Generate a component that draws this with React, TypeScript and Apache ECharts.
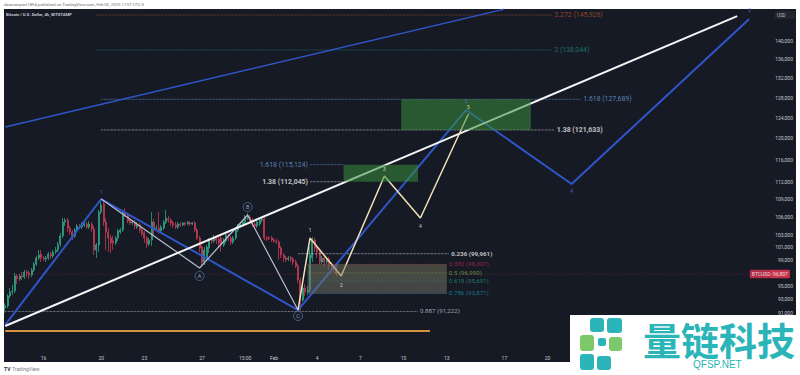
import React, { useEffect, useRef } from "react";
import * as echarts from "echarts";

// 4h slots of the time axis
const slotCount = 330;
const slots: string[] = [];
for (let i = 0; i < slotCount; i++) {
  const d = new Date(Date.UTC(2025, 0, 13, 8 + i * 4));
  const p = (n: number) => String(n).padStart(2, "0");
  slots.push(`${p(d.getUTCMonth() + 1)}-${p(d.getUTCDate())} ${p(d.getUTCHours())}:00`);
}

const xTicks: [string, string][] = [
  ["01-16 00:00", "16"], ["01-20 00:00", "20"], ["01-23 00:00", "23"], ["01-27 00:00", "27"],
  ["01-30 00:00", "15:00"], ["02-01 00:00", "Feb"], ["02-04 00:00", "4"], ["02-07 00:00", "7"],
  ["02-10 00:00", "10"], ["02-13 00:00", "13"], ["02-17 00:00", "17"], ["02-20 00:00", "20"],
];
const yTicks = [91000, 93000, 95000, 99000, 101000, 103000, 106000, 109000, 112000, 116000, 120000, 124000, 128000, 132000, 136000, 140000];

// open, close, low, high
const candles: number[][] = [
  [91720,92010,91000,92450],[92010,93480,91720,93780],[93480,94080,93190,94680],[94080,94230,93630,95130],
  [94230,96500,93930,96960],[96500,96050,95280,96810],[96050,96500,95740,96810],[96500,96350,95890,97110],
  [96350,97110,96050,97420],[97110,96960,96350,97420],[96960,96650,96050,97260],[96650,97420,96350,97730],
  [97420,98350,97110,98660],[98350,99290,98040,99610],[99290,99770,98970,100560],[99930,99290,98660,100560],
  [99290,99130,98820,99610],[99130,99290,98660,99610],[99290,99930,98970,100240],[99930,99610,99130,100240],
  [99610,100240,99290,100560],[100240,100560,99930,101030],[100560,101510,100240,101840],[101510,102830,101030,103320],
  [102830,105110,102490,105780],[105110,105450,104450,105780],[105450,104130,103480,105780],[104130,103480,103000,104450],
  [103480,102830,102160,103800],[102830,103800,102490,104130],[103800,104450,103480,104780],[104450,104290,103960,104780],
  [104290,104620,103960,105110],[104620,104780,104290,105110],[104780,104290,103960,105110],[104290,104780,103960,105280],
  [104780,103960,103480,105110],[103960,100560,99770,104450],[100560,101350,99290,101680],[101350,106800,100240,107140],
  [106800,107980,106460,108850],[108150,105110,104450,108850],[105110,103480,100560,105780],[103480,102490,100240,104130],
  [102490,101680,100080,103000],[102000,101680,100560,102830],[101680,102490,101350,102830],[102490,103640,102000,103960],
  [103480,103800,103160,104130],[103800,106800,103480,107140],[106800,106290,105950,107470],[106290,105280,104950,106630],
  [105450,104950,104620,105780],[104950,105110,104620,105450],[105110,104450,103960,105450],[104290,104780,103960,105110],
  [104620,103800,103320,104950],[103800,103160,102830,104130],[103320,102490,101680,103640],[102490,101510,100870,102830],
  [101510,102160,101190,102490],[102160,105110,101190,106800],[105110,103960,102830,105610],[103960,104130,103640,104620],
  [104130,103640,103160,106800],[103640,104290,103320,104620],[104130,105110,103800,105450],[105110,105780,104780,107140],
  [105610,105450,104950,106120],[105450,104950,104450,105780],[104950,104620,104130,105280],[104620,104290,103960,105110],
  [104290,104780,103960,105110],[104780,104620,104290,105110],[104620,104950,104450,105110],[104950,104780,104450,105110],
  [104780,105110,104620,105280],[104950,104780,104450,105280],[104780,104950,104620,105110],[104950,103800,103480,105280],
  [103800,102490,102160,104130],[102490,100870,100240,102830],[101030,98660,98040,101350],[98660,100560,98190,101030],
  [99290,101030,98970,101350],[100870,102160,100080,102490],[102160,102000,101510,102490],[102000,102490,101680,103000],
  [102490,102160,101510,102830],[102330,101680,100870,102830],[102490,101350,100240,102830],[101350,102160,101030,102490],
  [102000,103000,101680,103320],[102830,102490,102000,103320],[102490,101840,101350,102830],[101840,102490,101510,102830],
  [102490,103800,102160,104130],[103800,104450,103480,104780],[104450,104780,104130,105110],[104780,105110,104450,105450],
  [105110,105950,104780,106290],[105780,106120,105450,106630],[105950,105450,104950,106290],[105450,104780,104290,105780],
  [104780,104450,103960,105110],[104450,105110,104130,105450],[104780,105450,104450,105780],[105450,105610,105110,105950],
  [105610,102490,102160,105950],[102490,102330,102000,102830],[102490,102400,102160,102830],[102490,102160,101840,102830],
  [102160,102000,101680,102490],[102000,101840,101510,102330],[101840,100870,98970,102160],[100870,99770,99290,101190],
  [99770,99290,98660,100080],[99290,98970,98660,99610],[99130,99290,98820,99610],[99290,99130,98660,99610],
  [99130,98660,98190,99450],[98660,98040,97730,98970],[98040,95890,95430,98350],[95890,92890,91290,96200],
  [92890,94680,92600,95280],[94680,94080,93480,95280],[94080,94380,93630,94980],[94380,99770,94080,101030],
  [99290,102160,98660,102660],[102160,100870,100240,102490],[100870,100240,99290,101190],[100240,98660,98350,100560],
  [98660,99290,98350,99610],[99290,98660,98040,99610],[98660,98970,98350,99290],[99130,98350,97420,99450],
  [98350,98040,97420,98660],[98040,97730,97110,98350],[97730,96810,96500,98040],
];

const lastPrice = 96807;

// drawn wave paths: [time, price]
const blueWave: [string, number][] = [
  ["01-13 08:00", 89290], ["01-20 00:00", 109020], ["02-02 16:00", 91430],
  ["02-14 08:00", 125530], ["02-21 16:00", 111640], ["03-06 00:00", 145010],
];
const blueChannel: [string, number][] = [["01-13 08:00", 122190], ["02-17 00:00", 147300]];
const whiteTrend: [string, number][] = [["01-13 08:00", 89145], ["03-05 04:00", 145690]];
const abcWave: [string, number][] = [
  ["01-20 00:00", 109020], ["01-26 20:00", 97730], ["01-30 04:00", 106290], ["02-02 16:00", 91430],
];
const creamWave: [string, number][] = [
  ["02-02 16:00", 91430], ["02-03 12:00", 102480], ["02-05 16:00", 96500],
  ["02-08 16:00", 113070], ["02-11 04:00", 105790], ["02-14 12:00", 124740],
];
const orangeLine: [string, number][] = [["01-13 08:00", 88440], ["02-11 20:00", 88440]];

const fibLevels: { text: string; price: number; from: string; to: string; color: string; side: string; bold?: boolean; large?: boolean }[] = [
  { text: "2.272 (145,926)", price: 145926, from: "01-19 16:00", to: "02-20 08:00", color: "#b5532d", side: "right", large: true },
  { text: "2 (138,044)", price: 138044, from: "01-19 16:00", to: "02-20 08:00", color: "#1f8a78", side: "right", large: true },
  { text: "1.618 (127,689)", price: 127689, from: "01-20 00:00", to: "02-22 08:00", color: "#6d9fd6", side: "right", large: true },
  { text: "1.38 (121,633)", price: 121633, from: "01-20 00:00", to: "02-20 12:00", color: "#e8e8e8", side: "right", bold: true, large: true },
  { text: "1.618 (115,124)", price: 115124, from: "02-03 12:00", to: "02-05 20:00", color: "#6d9fd6", side: "left", large: true },
  { text: "1.38 (112,045)", price: 112045, from: "02-03 12:00", to: "02-05 20:00", color: "#e8e8e8", side: "left", bold: true, large: true },
  { text: "0.236 (99,961)", price: 99961, from: "02-02 16:00", to: "02-13 04:00", color: "#e8e8e8", side: "right", bold: true },
  { text: "0.382 (98,307)", price: 98307, from: "02-03 08:00", to: "02-13 00:00", color: "#b0285a", side: "right" },
  { text: "0.5 (96,990)", price: 96990, from: "02-03 08:00", to: "02-13 00:00", color: "#86a84a", side: "right" },
  { text: "0.618 (95,691)", price: 95691, from: "02-03 08:00", to: "02-13 00:00", color: "#23907a", side: "right" },
  { text: "0.786 (93,871)", price: 93871, from: "02-03 08:00", to: "02-13 00:00", color: "#1b8aa6", side: "right" },
  { text: "0.887 (91,222)", price: 91222, from: "01-13 08:00", to: "02-11 00:00", color: "#c3c5cf", side: "right" },
];

const greenZones: [string, string, number, number][] = [
  ["02-05 20:00", "02-11 00:00", 112045, 115124],
  ["02-09 20:00", "02-18 20:00", 121633, 127689],
];
const retraceZones: [number, number, string][] = [
  [96990, 98307, "rgba(118,118,92,0.5)"],
  [95691, 96990, "rgba(118,122,100,0.5)"],
  [93871, 95691, "rgba(115,116,104,0.5)"],
];

const creamLabels: [string, number, string][] = [
  ["02-03 12:00", 103800, "1"], ["02-05 16:00", 95130, "2"], ["02-08 16:00", 114330, "3"],
  ["02-11 04:00", 104450, "4"], ["02-14 12:00", 126130, "5"],
];
const blueLabels: [string, number, string][] = [
  ["01-20 00:00", 110230, "1"], ["02-14 08:00", 127300, "3"], ["02-21 16:00", 110420, "4"], ["03-06 00:00", 147090, "5"],
];
const circleLabels: [string, number, string][] = [
  ["01-26 20:00", 96500, "A"], ["01-30 04:00", 107640, "B"], ["02-02 16:00", 90570, "C"],
];
const priceTag: [string, string, string][] = [["03-06 20:00", "BTCUSD", "#d8324f"], ["03-08 04:00", "96,807", "#ef3a55"]];

const line = (data: [string, number][], color: string, width: number, z: number, type: string = "solid") => ({
  type: "line", data, symbol: "none", silent: true, z,
  lineStyle: { color, width, type }, connectNulls: true,
});

const FONT = "Roboto, 'Liberation Sans', sans-serif";

export default function App() {
  const ref = useRef<HTMLDivElement>(null);
  useEffect(() => {
    document.body.style.margin = "0";
    document.body.style.background = "#fff";
    const chart = echarts.init(ref.current!, undefined, { renderer: "svg" });
    const tickMap = new Map(xTicks);
    const option: any = {
      animation: false,
      backgroundColor: "#ffffff",
      grid: { left: 4, right: 4, top: 9, bottom: 13, show: true, backgroundColor: "#161a25", borderWidth: 0 },
      xAxis: {
        type: "category", data: slots, boundaryGap: true,
        axisLine: { show: false }, axisTick: { show: false }, splitLine: { show: false },
        axisLabel: {
          inside: true, margin: 2, hideOverlap: false, fontSize: 5, color: "#c4c7cf", fontFamily: FONT,
          interval: (_: number, v: string) => tickMap.has(v),
          formatter: (v: string) => tickMap.get(v) ?? "",
        },
      },
      yAxis: {
        type: "log", logBase: 10, min: 84200, max: 147330, position: "right",
        axisLine: { show: false }, axisTick: { show: false }, splitLine: { show: false }, minorTick: { show: false },
        axisLabel: {
          inside: true, margin: 3, fontSize: 5, color: "#c4c7cf", fontFamily: FONT, hideOverlap: false,
          customValues: yTicks,
          formatter: (v: number) => Math.round(v).toLocaleString("en-US"),
        },
      },
      series: [
        {
          type: "candlestick", z: 2, silent: true, barWidth: 1.6,
          data: candles,
          itemStyle: { color: "#2f9f83", color0: "#c23a52", borderColor: "#2f9f83", borderColor0: "#c23a52", borderWidth: 0.8 },
        },
        line([[slots[0], lastPrice], [slots[slotCount - 1], lastPrice]], "rgba(200,60,80,0.35)", 0.7, 2, "dotted"),
        ...fibLevels.map((l) => line([[l.from, l.price], [l.to, l.price]], l.color, 0.7, 3, "dotted")),
        line(orangeLine, "#d4953a", 2, 4),
        line(blueChannel, "#2f56c8", 1.5, 5),
        line(blueWave, "#2f56c8", 2, 5),
        line(abcWave, "#b6bed0", 1.2, 6),
        line(whiteTrend, "#f5f5f5", 2, 7),
        line(creamWave, "#f0e2b4", 1.5, 8),
        {
          type: "line", data: [], z: 9, silent: true,
          markArea: {
            silent: true, z: 9,
            data: [
              ...greenZones.map(([a, b, lo, hi]) => [
                { xAxis: a, yAxis: hi, itemStyle: { color: "rgba(56,142,60,0.55)" } },
                { xAxis: b, yAxis: lo },
              ]),
              ...retraceZones.map(([lo, hi, color]) => [
                { xAxis: "02-03 08:00", yAxis: hi, itemStyle: { color } },
                { xAxis: "02-13 00:00", yAxis: lo },
              ]),
            ],
          },
        },
        {
          type: "scatter", z: 12, silent: true, symbolSize: 0,
          data: fibLevels.map((l) => ({
            value: [l.side === "right" ? l.to : l.from, l.price],
            label: {
              show: true, position: l.side, distance: 2, formatter: l.text, color: l.color,
              fontSize: l.large ? 6.9 : 6.2, fontFamily: FONT, fontWeight: l.bold ? "bold" : "normal",
            },
          })),
        },
        {
          type: "scatter", z: 12, silent: true, symbolSize: 0,
          data: creamLabels.map(([t, p, s]) => ({
            value: [t, p],
            label: { show: true, position: "inside", formatter: s, color: "#f0e6c0", fontSize: 5.5, fontFamily: FONT },
          })),
        },
        {
          type: "scatter", z: 12, silent: true, symbolSize: 0,
          data: blueLabels.map(([t, p, s]) => ({
            value: [t, p],
            label: { show: true, position: "inside", formatter: s, color: "#4f78d8", fontSize: 5.5, fontFamily: FONT },
          })),
        },
        {
          type: "scatter", z: 12, silent: true, symbol: "circle", symbolSize: 9,
          itemStyle: { color: "rgba(22,26,37,0.9)", borderColor: "#5d86c8", borderWidth: 0.8 },
          data: circleLabels.map(([t, p, s]) => ({
            value: [t, p],
            label: { show: true, position: "inside", formatter: s, color: "#b8c4dc", fontSize: 5.5, fontFamily: FONT },
          })),
        },
        {
          type: "scatter", z: 13, silent: true, symbolSize: 0,
          data: priceTag.map(([t, s, bg]) => ({
            value: [t, lastPrice],
            label: {
              show: true, position: "inside", formatter: s, color: "#ffffff", fontSize: 5, fontFamily: FONT,
              backgroundColor: bg, padding: [2, 2, 1.5, 2], borderRadius: 1,
            },
          })),
        },
      ],
      graphic: [
        { type: "text", z: 50, x: 4, y: 2, style: { text: "dasmarquez1894 published on TradingView.com, Feb 05, 2025 17:07 UTC-5", fontSize: 4.2, fontFamily: FONT, fill: "#6b6f78" } },
        { type: "text", z: 50, x: 6, y: 12, style: { text: "Bitcoin / U.S. Dollar, 4h, BITSTAMP", fontSize: 4.2, fontFamily: FONT, fontWeight: "bold", fill: "#c4c7cf" } },
        { type: "rect", z: 50, shape: { x: 775, y: 11, width: 20, height: 8 }, style: { fill: "#23262f" } },
        { type: "text", z: 51, x: 777, y: 12.5, style: { text: "USD", fontSize: 4.5, fontFamily: FONT, fill: "#b8bbc3" } },
        { type: "text", z: 50, x: 4, y: 366, style: { text: "TV", fontSize: 5, fontFamily: FONT, fontWeight: "bold", fill: "#2a2e39" } },
        { type: "text", z: 50, x: 12, y: 366, style: { text: "TradingView", fontSize: 5, fontFamily: FONT, fill: "#7a7e87" } },
        { type: "rect", z: 60, shape: { x: 570, y: 315, width: 230, height: 60 }, style: { fill: "#ffffff" } },
        { type: "rect", z: 61, shape: { x: 590, y: 318, width: 14, height: 14, r: 3 }, style: { fill: "#2bb5b8" } },
        { type: "rect", z: 61, shape: { x: 607, y: 318, width: 15, height: 15, r: 3 }, style: { fill: "#2bb5b8" } },
        { type: "rect", z: 61, shape: { x: 580, y: 335, width: 14, height: 16, r: 3 }, style: { fill: "#7dc86a" } },
        { type: "rect", z: 61, shape: { x: 609, y: 337, width: 13, height: 14, r: 3 }, style: { fill: "#7dc86a" } },
        { type: "rect", z: 61, shape: { x: 580, y: 354, width: 14, height: 16, r: 3 }, style: { fill: "#2bb5b8" } },
        { type: "rect", z: 61, shape: { x: 597, y: 356, width: 14, height: 14, r: 3 }, style: { fill: "#2bb5b8" } },
        { type: "rect", z: 61, shape: { x: 598, y: 338, width: 8, height: 8, r: 2 }, style: { fill: "#2bb5b8" } },
        { type: "text", z: 61, x: 643, y: 319, style: { text: "量链科技", fontSize: 38, fontFamily: "'Noto Sans CJK SC'", fontWeight: "bold", fill: "#2bb5b8" } },
        { type: "text", z: 61, x: 693, y: 359, style: { text: "QFSP.NET", fontSize: 10, fontFamily: "'Liberation Sans'", fill: "#2bb5b8", letterSpacing: 1.5 } },
      ],
    };
    chart.setOption(option);
    return () => chart.dispose();
  }, []);
  return <div ref={ref} style={{ position: "absolute", left: 0, top: 0, width: 800, height: 375 }} />;
}
